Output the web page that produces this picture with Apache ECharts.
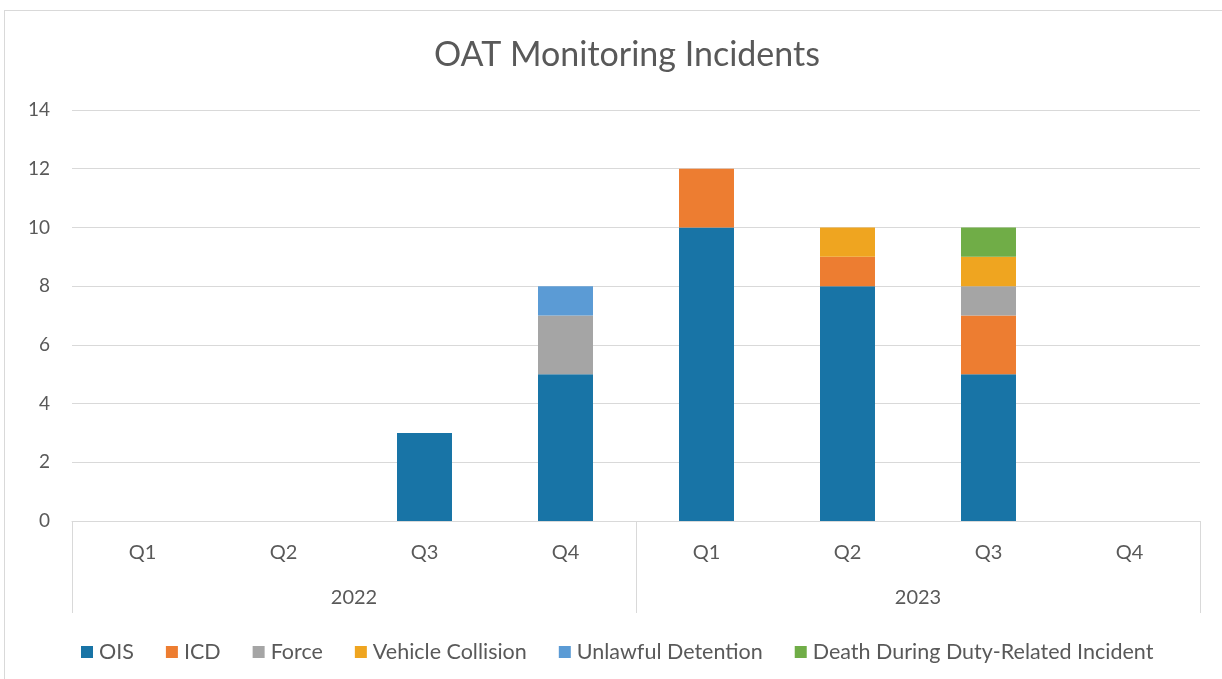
<!DOCTYPE html>
<html lang="en">
<head>
    <meta charset="UTF-8">
    <title>OAT Monitoring Incidents</title>
    <script src="https://cdn.jsdelivr.net/npm/echarts@6/dist/echarts.min.js"></script>
    <style>
        html, body {
            margin: 0;
            padding: 0;
            background: #fff;
        }
        .frame {
            position: absolute;
            left: 4px;
            top: 10px;
            width: 1222px;
            height: 680px;
            border: 1px solid #d9d9d9;
            box-sizing: border-box;
        }
        #chart {
            position: absolute;
            left: 0;
            top: 0;
            width: 1222px;
            height: 679px;
        }
    </style>
</head>
<body>
    <div class="frame"></div>
    <div id="chart"></div>

    <script>
        // data
        const quarters = ['Q1', 'Q2', 'Q3', 'Q4', 'Q1', 'Q2', 'Q3', 'Q4'];
        const years = ['2022', '2023'];
        const ois = [0, 0, 3, 5, 10, 8, 5, 0];
        const icd = [0, 0, 0, 0, 2, 1, 2, 0];
        const force = [0, 0, 0, 2, 0, 0, 1, 0];
        const vehicleCollision = [0, 0, 0, 0, 0, 1, 1, 0];
        const unlawfulDetention = [0, 0, 0, 1, 0, 0, 0, 0];
        const deathDuty = [0, 0, 0, 0, 0, 0, 1, 0];

        const seriesDefs = [
            { name: 'OIS', data: ois, color: '#1874a6' },
            { name: 'ICD', data: icd, color: '#ed7d31' },
            { name: 'Force', data: force, color: '#a5a5a5' },
            { name: 'Vehicle Collision', data: vehicleCollision, color: '#efa520' },
            { name: 'Unlawful Detention', data: unlawfulDetention, color: '#5b9bd5' },
            { name: 'Death During Duty-Related Incident', data: deathDuty, color: '#70ad47' }
        ];

        const font = 'Lato, "Open Sans", sans-serif';
        const textColor = '#595959';
        const lineColor = '#d9d9d9';

        const chart = echarts.init(document.getElementById('chart'));
        chart.setOption({
            animation: false,
            textStyle: { fontFamily: font },
            title: {
                text: 'OAT Monitoring Incidents',
                left: 429,
                top: 33,
                textStyle: { fontFamily: font, fontSize: 34, fontWeight: 'normal', color: textColor }
            },
            legend: {
                top: 636,
                left: 76,
                itemWidth: 12,
                itemHeight: 12,
                itemGap: 32,
                icon: 'rect',
                textStyle: { fontFamily: font, fontSize: 21.5, color: textColor, padding: [0, 0, 0, 1] },
                data: seriesDefs.map(s => s.name)
            },
            grid: { left: 72, right: 22, top: 110, bottom: 158 },
            xAxis: [
                {
                    type: 'category',
                    data: quarters,
                    axisLine: { lineStyle: { color: lineColor } },
                    axisTick: { show: false },
                    axisLabel: { fontSize: 20, color: textColor, margin: 22 }
                },
                {
                    type: 'category',
                    data: years,
                    position: 'bottom',
                    axisLine: { show: false },
                    axisTick: { show: true, length: 92, lineStyle: { color: lineColor } },
                    axisLabel: { fontSize: 20, color: textColor, margin: 67 }
                }
            ],
            yAxis: {
                type: 'value',
                min: 0,
                max: 14,
                interval: 2,
                axisLine: { show: false },
                axisTick: { show: false },
                axisLabel: { fontSize: 19, color: textColor, margin: 22 },
                splitLine: { lineStyle: { color: lineColor } }
            },
            series: seriesDefs.map(s => ({
                name: s.name,
                type: 'bar',
                stack: 'total',
                xAxisIndex: 0,
                barWidth: '39%',
                data: s.data,
                itemStyle: { color: s.color }
            }))
        });
    </script>
</body>
</html>
